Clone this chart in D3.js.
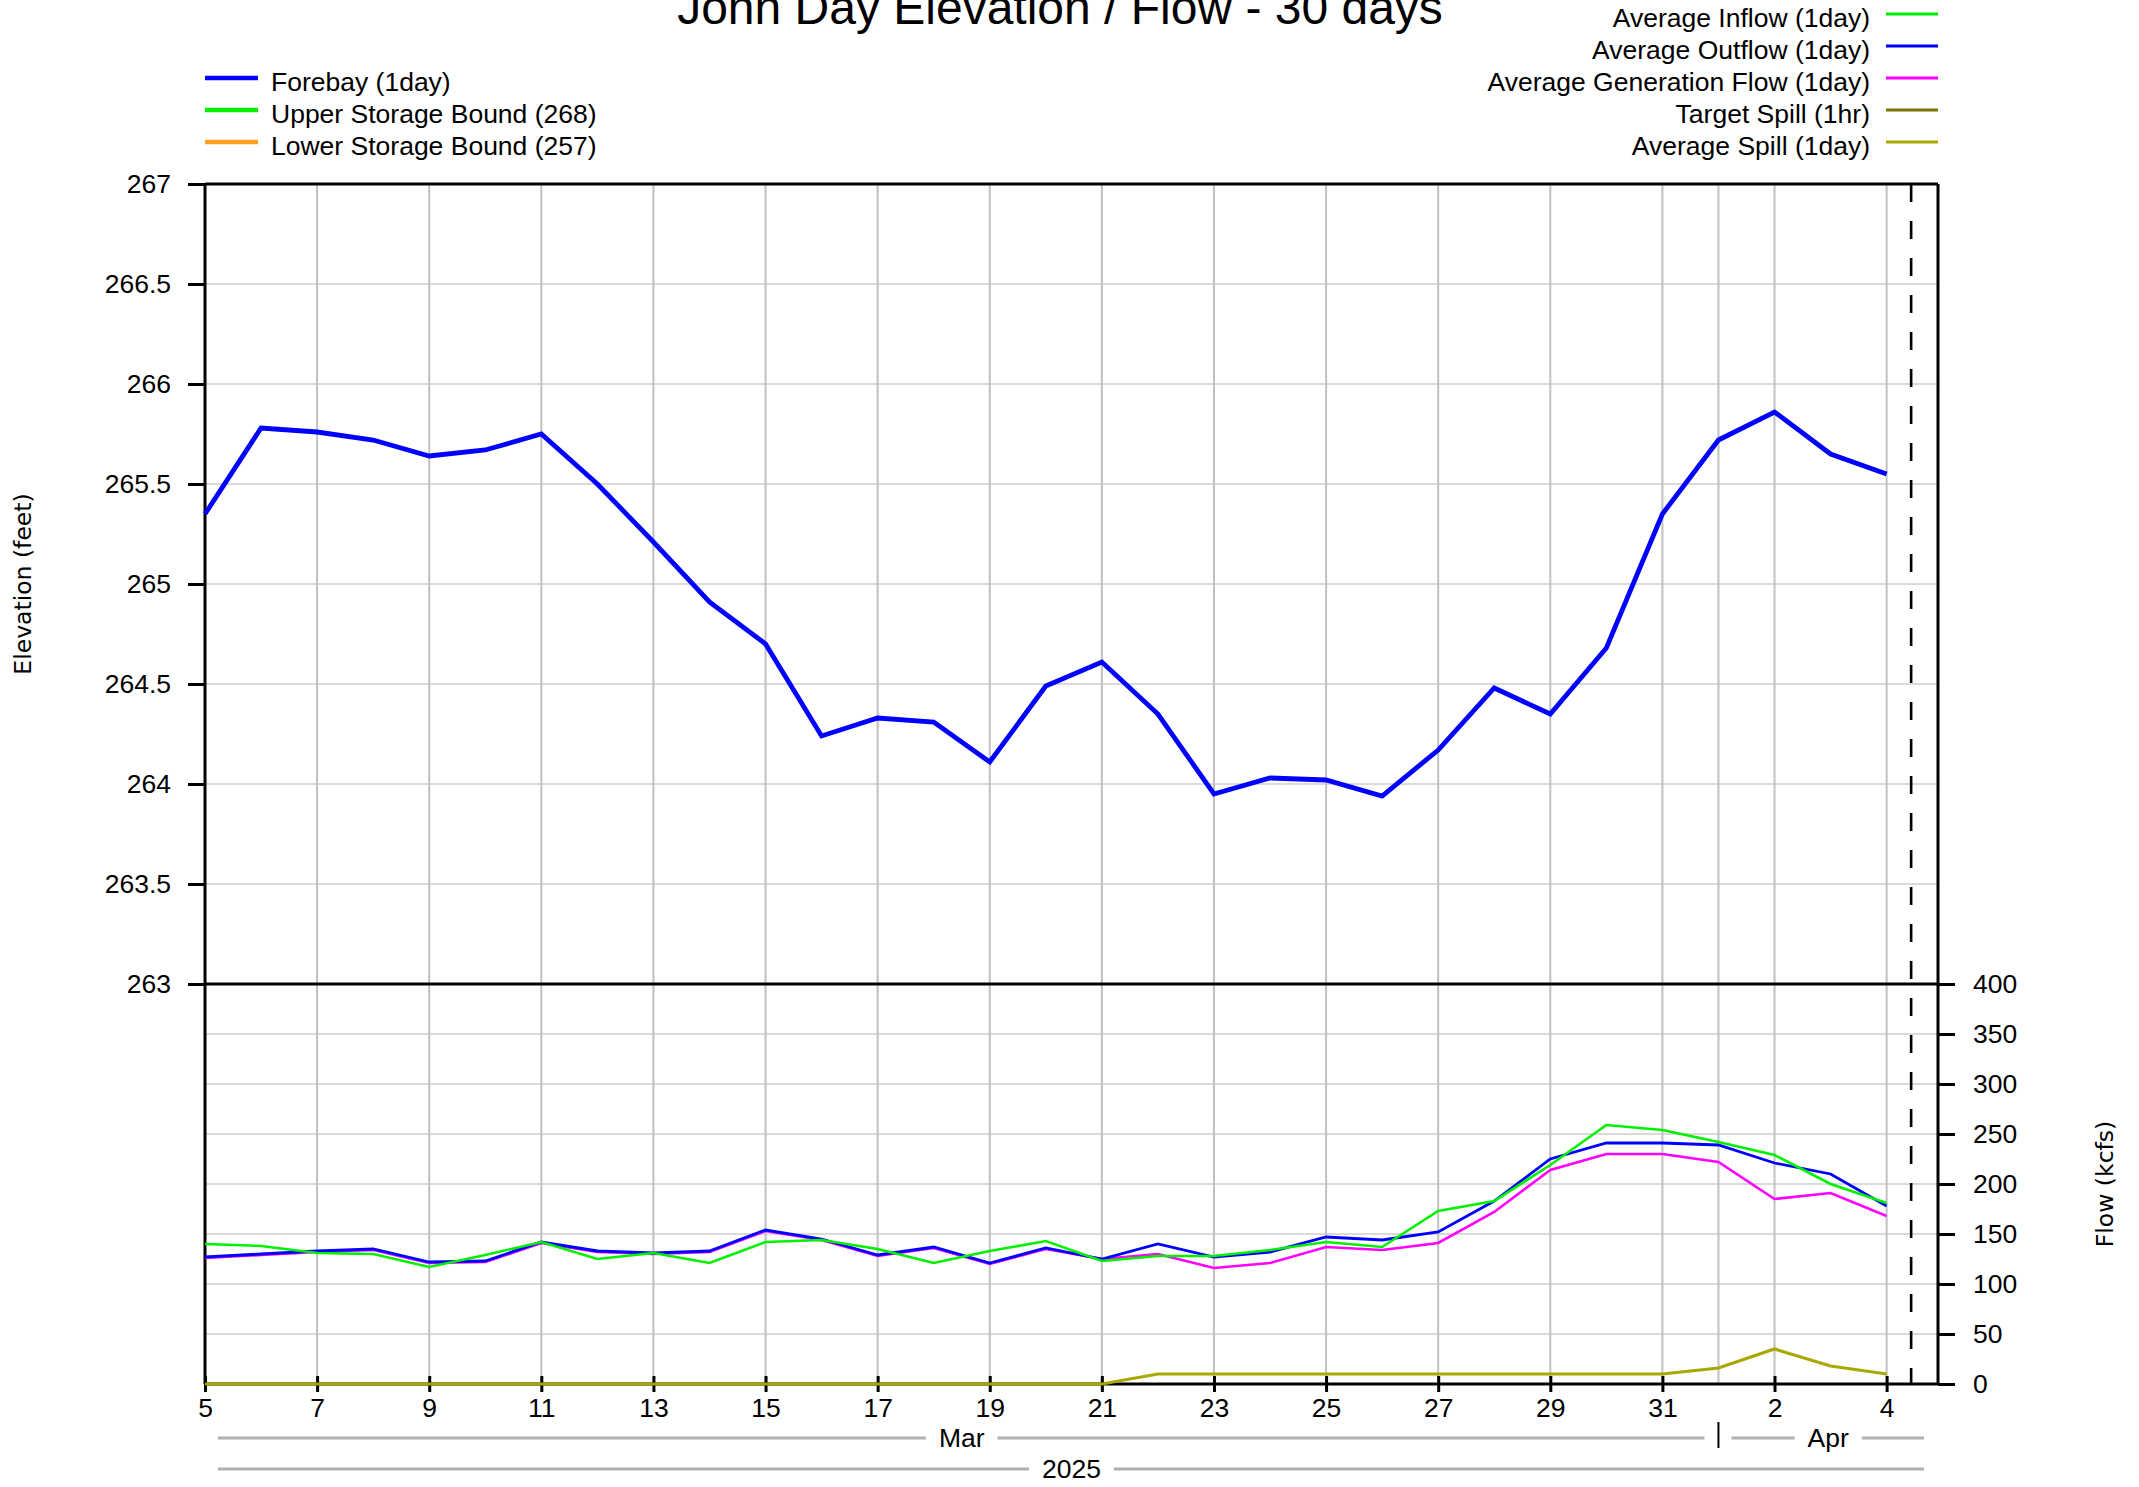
<!DOCTYPE html>
<html>
<head>
<meta charset="utf-8">
<script src="https://cdn.jsdelivr.net/npm/d3@7"></script>
<style>
  body { margin: 0; background: #fff; }
  svg { display: block; font-family: "Liberation Sans", Arial, sans-serif; }
  .axis-label { font-family: "DejaVu Sans", sans-serif; font-size: 23.5px; }
</style>
</head>
<body>
<svg id="chart" width="2139" height="1487"></svg>
<script>
// daily values, Mar 5 .. Apr 4 2025
const start = new Date(Date.UTC(2025, 2, 5));
const end = new Date(Date.UTC(2025, 3, 4, 22));
const now = new Date(Date.UTC(2025, 3, 4, 10, 30));
const days = d3.utcDay.range(start, new Date(Date.UTC(2025, 3, 5)));

const forebay = [265.35, 265.78, 265.76, 265.72, 265.64, 265.67, 265.75, 265.50, 265.21, 264.91,
  264.70, 264.24, 264.33, 264.31, 264.11, 264.49, 264.61, 264.35, 263.95, 264.03,
  264.02, 263.94, 264.17, 264.48, 264.35, 264.68, 265.35, 265.72, 265.86, 265.65, 265.55];
const inflow = [140, 138, 131, 130, 117, 129, 142, 125, 131, 121, 142, 144, 135, 121, 133, 143,
  123, 128, 128, 134, 142, 137, 173, 183, 219, 259, 254, 242, 229, 200, 181];
const outflow = [127, 130, 133, 135, 122, 123, 142, 133, 131, 133, 154, 145, 129, 137, 121, 136,
  125, 140, 127, 132, 147, 144, 152, 183, 225, 241, 241, 239, 221, 210, 178];
const generation = [126, 129, 132, 134, 121, 122, 141, 132, 130, 132, 153, 144, 128, 136, 120, 135,
  125, 130, 116, 121, 137, 134, 141, 172, 214, 230, 230, 222, 185, 191, 168];
const avgSpill = [0, 0, 0, 0, 0, 0, 0, 0, 0, 0, 0, 0, 0, 0, 0, 0,
  0, 10, 10, 10, 10, 10, 10, 10, 10, 10, 10, 16, 35, 18, 10];

const elevTicks = [263, 263.5, 264, 264.5, 265, 265.5, 266, 266.5, 267];
const flowTicks = [0, 50, 100, 150, 200, 250, 300, 350, 400];

const leftLegend = [
  { name: "Forebay (1day)", color: "#0000ff" },
  { name: "Upper Storage Bound (268)", color: "#00f000" },
  { name: "Lower Storage Bound (257)", color: "#ffa020" }
];
const rightLegend = [
  { name: "Average Inflow (1day)", color: "#00f000" },
  { name: "Average Outflow (1day)", color: "#0000ff" },
  { name: "Average Generation Flow (1day)", color: "#ff00ff" },
  { name: "Target Spill (1hr)", color: "#767600" },
  { name: "Average Spill (1day)", color: "#a8a800" }
];

const L = 205, R = 1938, T = 184, MID = 984, B = 1384;

const svg = d3.select("#chart");

const x = d3.scaleUtc().domain([start, end]).range([L, R]);
const yElev = d3.scaleLinear().domain([263, 267]).range([MID, T]);
const yFlow = d3.scaleLinear().domain([0, 400]).range([B, MID]);

// grid
const tickDays = d3.utcDay.range(start, end).filter((d, i) => i % 2 === 0);
const gridDays = tickDays.concat([new Date(Date.UTC(2025, 3, 1))]);

svg.append("g").selectAll("line")
  .data(elevTicks.slice(1, -1))
  .enter().append("line")
  .attr("x1", L).attr("x2", R)
  .attr("y1", d => yElev(d)).attr("y2", d => yElev(d))
  .style("stroke", "#dadada").style("stroke-width", 2);

svg.append("g").selectAll("line")
  .data(flowTicks.slice(1, -1))
  .enter().append("line")
  .attr("x1", L).attr("x2", R)
  .attr("y1", d => yFlow(d)).attr("y2", d => yFlow(d))
  .style("stroke", "#dadada").style("stroke-width", 2);

svg.append("g").selectAll("line")
  .data(gridDays)
  .enter().append("line")
  .attr("x1", d => x(d)).attr("x2", d => x(d))
  .attr("y1", T).attr("y2", B)
  .style("stroke", "#c0c0c0").style("stroke-width", 2);

// axes
const elevAxis = svg.append("g")
  .attr("transform", `translate(${L},0)`)
  .call(d3.axisLeft(yElev).tickValues(elevTicks).tickSize(17).tickPadding(17).tickFormat(d => d));

const flowAxis = svg.append("g")
  .attr("transform", `translate(${R},0)`)
  .call(d3.axisRight(yFlow).tickValues(flowTicks).tickSize(17).tickPadding(18).tickFormat(d => d));

const xAxis = svg.append("g")
  .attr("transform", `translate(0,${B})`)
  .call(d3.axisBottom(x).tickValues(tickDays).tickSize(8).tickFormat(d3.utcFormat("%-d")));

xAxis.selectAll(".tick line").attr("y1", -8).attr("y2", 8);
xAxis.selectAll(".tick text").attr("y", 14);

[elevAxis, flowAxis, xAxis].forEach(function (g) {
  g.select(".domain").remove();
  g.selectAll(".tick line").style("stroke", "#000").style("stroke-width", 3);
  g.selectAll(".tick text").style("font-size", "26.5px").style("fill", "#000")
    .style("font-family", "'Liberation Sans', Arial, sans-serif");
});

// frame
svg.append("g").selectAll("line")
  .data([[L, T, R, T], [L, MID, R, MID], [L, B, R, B], [L, T, L, B], [R, T, R, B]])
  .enter().append("line")
  .attr("x1", d => d[0]).attr("y1", d => d[1])
  .attr("x2", d => d[2]).attr("y2", d => d[3])
  .style("stroke", "#000").style("stroke-width", 3);

// series
const flowLine = function (vals) {
  return d3.line().x((d, i) => x(days[i])).y(d => yFlow(d))(vals);
};

[[avgSpill, "#a8a800", 3.2], [generation, "#ff00ff", 2.6], [outflow, "#0000ff", 2.8], [inflow, "#00f000", 2.6]]
  .forEach(function (s) {
    svg.append("path")
      .attr("d", flowLine(s[0]))
      .attr("fill", "none")
      .style("stroke", s[1])
      .style("stroke-width", s[2]);
  });

svg.append("path")
  .attr("d", d3.line().x((d, i) => x(days[i])).y(d => yElev(d))(forebay))
  .attr("fill", "none")
  .style("stroke", "#0000ff")
  .style("stroke-width", 4.8);

// current time
svg.append("line")
  .attr("x1", x(now)).attr("x2", x(now))
  .attr("y1", T).attr("y2", B)
  .style("stroke", "#000").style("stroke-width", 2.6)
  .style("stroke-dasharray", "18,19");

// month / year rows
const apr1 = new Date(Date.UTC(2025, 3, 1));
const rows = [
  { label: "Mar", from: start, to: apr1, y: 1438 },
  { label: "Apr", from: apr1, to: end, y: 1438 },
  { label: "2025", from: start, to: end, y: 1469 }
];

rows.forEach(function (r) {
  let a = x(r.from), b = x(r.to), c = (a + b) / 2;
  let t = svg.append("text")
    .attr("x", c).attr("y", r.y)
    .attr("dy", "0.35em")
    .attr("text-anchor", "middle")
    .style("font-size", "26.5px")
    .text(r.label);
  let w = t.node().getComputedTextLength();
  [[a + 13, c - w / 2 - 13], [c + w / 2 + 13, b - 14]].forEach(function (seg) {
    svg.append("line")
      .attr("x1", seg[0]).attr("x2", seg[1])
      .attr("y1", r.y).attr("y2", r.y)
      .style("stroke", "#b0b0b0").style("stroke-width", 3);
  });
});

svg.append("line")
  .attr("x1", x(apr1)).attr("x2", x(apr1))
  .attr("y1", 1422).attr("y2", 1448)
  .style("stroke", "#000").style("stroke-width", 2);

// titles
svg.append("text")
  .attr("x", 1060).attr("y", 24)
  .attr("text-anchor", "middle")
  .style("font-size", "48px")
  .text("John Day Elevation / Flow - 30 days");

svg.append("text")
  .attr("class", "axis-label")
  .attr("transform", `translate(31,${(T + MID) / 2}) rotate(-90)`)
  .attr("text-anchor", "middle")
  .text("Elevation (feet)");

svg.append("text")
  .attr("class", "axis-label")
  .attr("transform", `translate(2113,${(MID + B) / 2}) rotate(-90)`)
  .attr("text-anchor", "middle")
  .text("Flow (kcfs)");

// legends
const lg = svg.append("g").selectAll("g")
  .data(leftLegend)
  .enter().append("g")
  .attr("transform", (d, i) => `translate(0,${78 + i * 32})`);

lg.append("line")
  .attr("x1", 205).attr("x2", 258)
  .style("stroke", d => d.color).style("stroke-width", 4.5);

lg.append("text")
  .attr("x", 271).attr("y", 4).attr("dy", "0.35em")
  .style("font-size", "26.5px")
  .text(d => d.name);

const rg = svg.append("g").selectAll("g")
  .data(rightLegend)
  .enter().append("g")
  .attr("transform", (d, i) => `translate(0,${14 + i * 32})`);

rg.append("line")
  .attr("x1", 1886).attr("x2", 1938)
  .style("stroke", d => d.color).style("stroke-width", 2.8);

rg.append("text")
  .attr("x", 1870).attr("y", 4).attr("dy", "0.35em")
  .attr("text-anchor", "end")
  .style("font-size", "26.5px")
  .text(d => d.name);
</script>
</body>
</html>
